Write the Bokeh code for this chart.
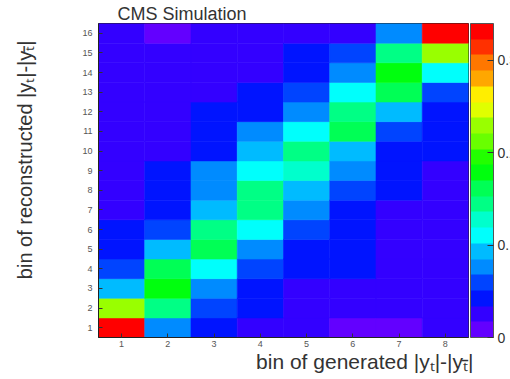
import colorsys

from bokeh.embed import file_html
from bokeh.models import (ColorBar, ColumnDataSource, FixedTicker, LinearColorMapper,
                          NumeralTickFormatter, Range1d, Title)
from bokeh.plotting import figure
from bokeh.resources import INLINE
from bokeh.transform import transform

# Migration matrix: one list per generated bin, entries for reconstructed bins 1..16
gen_bins = [1, 2, 3, 4, 5, 6, 7, 8]
reco_bins = list(range(1, 17))

gen1 = [0.335, 0.232, 0.093, 0.059, 0.042, 0.042, 0.025, 0.024,
        0.023, 0.022, 0.022, 0.021, 0.021, 0.020, 0.020, 0.020]
gen2 = [0.076, 0.144, 0.175, 0.160, 0.093, 0.059, 0.042, 0.040,
        0.038, 0.025, 0.024, 0.023, 0.022, 0.021, 0.020, 0.008]
gen3 = [0.040, 0.058, 0.075, 0.110, 0.160, 0.148, 0.093, 0.076,
        0.072, 0.042, 0.040, 0.038, 0.025, 0.024, 0.022, 0.021]
gen4 = [0.025, 0.040, 0.042, 0.058, 0.076, 0.112, 0.146, 0.142,
        0.110, 0.093, 0.076, 0.042, 0.040, 0.025, 0.024, 0.022]
gen5 = [0.025, 0.024, 0.026, 0.040, 0.042, 0.060, 0.080, 0.095,
        0.125, 0.145, 0.110, 0.076, 0.058, 0.040, 0.038, 0.025]
gen6 = [0.008, 0.025, 0.024, 0.040, 0.040, 0.041, 0.042, 0.058,
        0.076, 0.093, 0.162, 0.148, 0.112, 0.076, 0.058, 0.025]
gen7 = [0.008, 0.022, 0.023, 0.023, 0.024, 0.024, 0.025, 0.040,
        0.041, 0.042, 0.058, 0.093, 0.163, 0.178, 0.150, 0.076]
gen8 = [0.022, 0.022, 0.023, 0.023, 0.024, 0.024, 0.025, 0.025,
        0.026, 0.036, 0.040, 0.042, 0.058, 0.110, 0.232, 0.335]

colorbar_ticks = [0, 0.1, 0.2, 0.3]
z_min, z_max = 0.0, 0.34

x_title = "bin of generated |yₜ|-|yₜ̄|"
y_title = "bin of reconstructed |yₜ|-|yₜ̄|"
header = "CMS Simulation"


def rainbow_levels(n_levels=20, n_colors=50):
    """Violet-to-red HLS rainbow of n_colors, sampled into n_levels contour colours."""
    base = []
    for i in range(n_colors - 1):
        hue = 280.0 - (i + 1) * 280.0 / n_colors
        r, g, b = colorsys.hls_to_rgb(hue / 360.0, 0.5, 1.0)
        base.append("#%02x%02x%02x" % (round(r * 255), round(g * 255), round(b * 255)))
    base.append("#ff0000")
    return [base[int((k + 0.99) * n_colors / n_levels)] for k in range(n_levels)]


columns = [gen1, gen2, gen3, gen4, gen5, gen6, gen7, gen8]
xs, ys, vals = [], [], []
for g, col in zip(gen_bins, columns):
    for r, v in zip(reco_bins, col):
        xs.append(g)
        ys.append(r)
        vals.append(v)
source = ColumnDataSource(data=dict(gen=xs, reco=ys, value=vals))

mapper = LinearColorMapper(palette=rainbow_levels(), low=z_min, high=z_max)

FONT = "Liberation Sans"

p = figure(width=510, height=379, title=None,
           x_range=Range1d(0.5, 8.5), y_range=Range1d(0.5, 16.5),
           output_backend="svg", toolbar_location=None,
           min_border_left=98, min_border_right=42,
           min_border_top=23, min_border_bottom=42)
p.background_fill_color = "white"
p.border_fill_color = "white"
p.outline_line_color = "#222222"
p.grid.visible = False

p.rect(x="gen", y="reco", width=1, height=1, source=source,
       fill_color=transform("value", mapper),
       line_color=transform("value", mapper), line_width=0.6)

for ax, ticks in ((p.xaxis, gen_bins), (p.yaxis, reco_bins)):
    ax.ticker = FixedTicker(ticks=ticks)
    ax.major_tick_in = 4
    ax.major_tick_out = 0
    ax.minor_tick_line_color = None
    ax.axis_line_color = "#222222"
    ax.major_tick_line_color = "#333333"
    ax.major_label_text_font = FONT
    ax.major_label_text_font_size = "9px"
    ax.major_label_text_color = "#555555"
p.xaxis.major_label_standoff = 3
p.yaxis.major_label_standoff = 6

# x title, right-aligned with the end of the axis
p.add_layout(Title(text=x_title, align="right", offset=-5, vertical_align="top",
                   text_font=FONT, text_font_size="21px", text_font_style="normal",
                   text_color="#333333", standoff=0), "below")
# blank spacer so that the y title sits near the left edge
p.add_layout(Title(text=" ", text_font_size="1px", standoff=40), "left")
p.add_layout(Title(text=y_title, align="right", offset=17, vertical_align="middle",
                   text_font=FONT, text_font_size="20px", text_font_style="normal",
                   text_color="#333333", standoff=0), "left")
p.add_layout(Title(text=header, align="left", offset=19, vertical_align="bottom",
                   text_font=FONT, text_font_size="18px", text_font_style="normal",
                   text_color="#333333", standoff=0), "above")

color_bar = ColorBar(color_mapper=mapper, location=(372, 0), orientation="vertical",
                     width=23, height=314, padding=0, margin=0,
                     ticker=FixedTicker(ticks=colorbar_ticks),
                     formatter=NumeralTickFormatter(format="0.[0]"),
                     major_tick_in=6, major_tick_out=0,
                     major_tick_line_color="#333333",
                     bar_line_color="#555555", bar_line_width=1,
                     label_standoff=4,
                     major_label_text_font=FONT, major_label_text_font_size="14px",
                     major_label_text_color="#333333",
                     background_fill_alpha=0, border_line_color=None)
p.add_layout(color_bar, "center")

open("out.html", "w").write(file_html(p, INLINE))
